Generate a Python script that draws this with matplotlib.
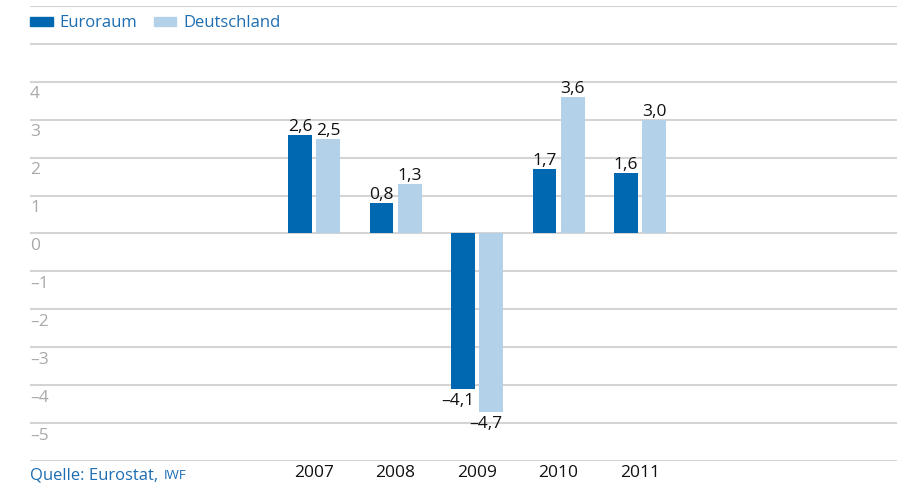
import numpy as np
import matplotlib
matplotlib.use('Agg')
import matplotlib.pyplot as plt
from matplotlib.patches import Patch
from matplotlib.transforms import blended_transform_factory

plt.rcParams['font.family'] = ['Open Sans', 'DejaVu Sans']

# Data
years = ['2007', '2008', '2009', '2010', '2011']
euroraum = [2.6, 0.8, -4.1, 1.7, 1.6]
deutschland = [2.5, 1.3, -4.7, 3.6, 3.0]
tick_values = [4, 3, 2, 1, 0, -1, -2, -3, -4, -5]

dark_blue = '#0067b1'
light_blue = '#b3d2ea'
text_blue = '#1d6db2'
grid_grey = '#d4d4d4'
tick_grey = '#a9a9a9'

fig = plt.figure(figsize=(8.97, 4.90), dpi=100)
ax = fig.add_axes([30 / 897, 1 - 461 / 490, 867 / 897, 455 / 490])

x = np.arange(len(years))
w = 0.294
off = 0.172

ax.bar(x - off, euroraum, w, color=dark_blue, zorder=3, label='Euroraum')
ax.bar(x + off, deutschland, w, color=light_blue, zorder=3, label='Deutschland')

def fmt(v):
    s = f'{abs(v):.1f}'.replace('.', ',')
    return ('\u2013' + s) if v < 0 else s

for xs, vals in ((x - off, euroraum), (x + off, deutschland)):
    for xi, v in zip(xs, vals):
        if v >= 0:
            ax.annotate(fmt(v), (xi, v), xytext=(0, 0), textcoords='offset points',
                        ha='center', va='bottom', fontsize=12.5, color='#111111')
        else:
            ax.annotate(fmt(v), (xi, v), xytext=(-4, -3), textcoords='offset points',
                        ha='center', va='top', fontsize=12.5, color='#111111')

ax.set_xlim(-3.485, 7.153)
ax.set_ylim(-6, 6)
ax.set_yticks(range(-6, 7))
ax.set_yticklabels([])
ax.tick_params(axis='y', length=0)
ax.grid(axis='y', color=grid_grey, linewidth=1.5, zorder=0)
for s in ax.spines.values():
    s.set_visible(False)

ax.set_xticks(x, years)
ax.tick_params(axis='x', length=0, pad=3, labelsize=12.5, labelcolor='#111111')

trans = blended_transform_factory(ax.transAxes, ax.transData)
for v in tick_values:
    ax.text(0.0, v - 0.33, '\u2013' + str(abs(v)) if v < 0 else str(v),
            transform=trans, ha='left', va='center', fontsize=12.5, color=tick_grey)

handles = [Patch(color=dark_blue, label='Euroraum'),
           Patch(color=light_blue, label='Deutschland')]
ax.legend(handles=handles, ncol=2, frameon=False, loc='center left',
          bbox_to_anchor=(0, 0.962), borderpad=0, borderaxespad=0,
          handlelength=1.35, handleheight=0.42, handletextpad=0.42,
          columnspacing=1.0, fontsize=12, labelcolor=text_blue)

# source line; "IWF" in small caps style
src_y = 1 - 479 / 490
t1 = fig.text(30 / 897, src_y, 'Quelle: Eurostat,', ha='left', va='baseline',
              fontsize=12, color=text_blue)
fig.add_artist(plt.Annotation('IWF', xy=(1, src_y), xycoords=(t1, 'figure fraction'),
                              xytext=(4, 0), textcoords='offset points',
                              ha='left', va='baseline', fontsize=9.5, color=text_blue))

fig.savefig('out.png', dpi=100)
